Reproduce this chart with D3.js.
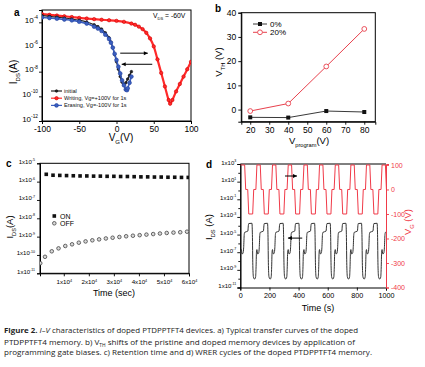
<!DOCTYPE html>
<html>
<head>
<meta charset="utf-8">
<script src="https://cdn.jsdelivr.net/npm/d3@7/dist/d3.min.js"></script>
<style>
html,body{margin:0;padding:0;background:#fff;}
svg{display:block;}
</style>
</head>
<body>
<svg id="fig" width="425" height="367"></svg>
<script>
// ================= DATA =================
// (a) transfer curves, V_G (V) and log10(I_DS / A)
const vgInitial = [-100,-90,-80,-70,-60,-50,-40,-30,-25,-20,-15,-10,-7.5,-5,-2.5,0,2.5,5,7.5,10,12.5,15,17.5,20];
const logIdsInitial = [-3.45,-3.52,-3.58,-3.65,-3.73,-3.83,-3.97,-4.2,-4.35,-4.55,-4.85,-5.25,-5.6,-6.05,-6.6,-7.2,-7.8,-8.4,-8.85,-9.05,-8.9,-8.6,-8.3,-8.0];
const vgErasing = [-100,-90,-80,-70,-60,-50,-40,-30,-25,-20,-15,-10,-7.5,-5,-2.5,0,2.5,5,7.5,10,12.5,14,15,17.5,20];
const logIdsErasing = [-3.6,-3.65,-3.7,-3.77,-3.84,-3.95,-4.1,-4.35,-4.5,-4.7,-5.0,-5.35,-5.65,-6.05,-6.55,-7.05,-7.6,-8.15,-8.7,-9.1,-9.45,-9.5,-9.35,-8.9,-8.4];
const vgWriting = [-100,-90,-80,-70,-60,-50,-40,-30,-20,-10,0,10,20,25,30,35,40,45,50,55,60,65,70,72,75,80,85,90,95,100];
const logIdsWriting = [-3.33,-3.39,-3.45,-3.51,-3.57,-3.64,-3.69,-3.74,-3.79,-3.83,-3.88,-3.96,-4.1,-4.2,-4.35,-4.55,-4.85,-5.3,-5.95,-7.0,-8.1,-9.2,-10.3,-10.6,-10.3,-9.6,-9.0,-8.4,-7.8,-7.2];
const aVgTicks = [-100,-50,0,50,100];
const aIdsTickExp = [-12,-10,-8,-6,-4];
const aLegend = ["initial","Writing, Vg=+100V for 1s","Erasing, Vg=-100V for 1s"];

// (b) threshold voltage vs programming voltage
const vProgram = [20,40,60,80];
const vth0 = [-3.2,-3.3,-0.6,-1.0];
const vth20 = [-0.6,2.5,17.8,33.3];
const bXTicks = [20,30,40,50,60,70,80];
const bYTicks = [0,10,20,30,40];
const bLegend = ["0%","20%"];

// (c) retention
const onTime = [3000,5700,8400,11100,13800,16500,19200,21900,24600,27300,30000,32700,35400,38100,40800,43500,46200,48900,51600,54300,57000,59700];
const onLogIds = [-5.6,-5.65,-5.66,-5.67,-5.68,-5.69,-5.69,-5.70,-5.70,-5.71,-5.71,-5.72,-5.72,-5.73,-5.74,-5.74,-5.75,-5.75,-5.76,-5.76,-5.77,-5.77];
const offTime = [600,2500,5200,7900,10600,13300,16000,18700,21400,24100,26800,29500,32200,34900,37600,40300,43000,45700,48400,51100,53800,56500,59200];
const offLogIds = [-10.45,-10.1,-9.8,-9.64,-9.51,-9.42,-9.33,-9.26,-9.2,-9.15,-9.1,-9.06,-9.02,-8.98,-8.95,-8.92,-8.89,-8.86,-8.83,-8.8,-8.78,-8.76,-8.73];
const cTimeTicks = [10000,20000,30000,40000,50000,60000];
const cIdsTickExp = [-11,-10,-9,-8,-7,-6,-5];

// (d) WRER cycles: one cycle shape (time offset s) and read cycle start times
const cycleStart = [7,114,221,329,437,544,652,759,866,973];
const gateShapeT = [0,23,30,44,51,78,85,100,107];
const gateShapeV = [100,100,0,0,-100,-100,0,0,100];
const drainShapeT = [0,5,12,16,20,23,45,48,51,73,76,79,83,91,98,101,104];
const drainShapeLog = [-6.7,-7.2,-7.1,-6.5,-5.0,-4.75,-4.6,-4.0,-3.75,-3.72,-5.0,-8.5,-9.8,-10.05,-9.8,-8.8,-7.0];
const dTimeTicks = [0,200,400,600,800,1000];
const dIdsTickExp = [3,1,-1,-3,-5,-7,-9,-11];
const dIdsMinorExp = [2,0,-2,-4,-6,-8,-10];
const dVgTicks = [100,0,-100,-200,-300,-400];

// ================= DRAWING =================
const FONT = "'Liberation Sans', Arial, Helvetica, sans-serif";
const svg = d3.select("#fig").attr("font-family", FONT);
svg.append("rect").attr("width",425).attr("height",367).attr("fill","#fff");
const defs = svg.append("defs");

function rich(sel, parts, fs) {
  let shift = 0;
  parts.forEach(([s, k]) => {
    const target = k === 'sub' ? fs*0.3 : (k === 'sup' ? -fs*0.42 : 0);
    const t = sel.append('tspan').text(s).attr('dy', (target - shift).toFixed(2));
    if (k === 'sub' || k === 'sup') t.attr('font-size', (fs*0.6).toFixed(2));
    if (k === 'b') t.attr('font-weight','bold');
    if (k === 'i') t.attr('font-style','italic');
    shift = target;
  });
}
function styleAxis(g, color, fs) {
  g.attr("font-family", FONT).attr("font-size", fs);
  g.select(".domain").attr("stroke", color).attr("stroke-width", 1);
  g.selectAll(".tick line").attr("stroke", color).attr("stroke-width", 0.9);
  g.selectAll(".tick text").attr("fill", color);
}
function clip(id, x0, y0, x1, y1) {
  defs.append("clipPath").attr("id", id).append("rect")
    .attr("x", x0).attr("y", y0).attr("width", x1-x0).attr("height", y1-y0);
  return `url(#${id})`;
}
function frame(x0,y0,x1,y1, color) {
  svg.append("rect").attr("x",x0).attr("y",y0).attr("width",x1-x0).attr("height",y1-y0)
    .attr("fill","none").attr("stroke",color||"#000").attr("stroke-width",1);
}
function arrow(x1, y1, x2, y2, color) {
  svg.append("line").attr("x1",x1).attr("y1",y1).attr("x2",x2).attr("y2",y2)
    .attr("stroke",color).attr("stroke-width",1);
  const dir = Math.sign(x2-x1);
  svg.append("path").attr("d",`M${x2},${y2} L${x2-dir*4},${y2-2} L${x2-dir*4},${y2+2} Z`).attr("fill",color);
}
const zip = (a,b) => a.map((v,i)=>[v,b[i]]);
const p10 = e => Math.pow(10, e);

// ---------- panel a ----------
{
  const L=42, R=191, T=10, B=121;
  const x = d3.scaleLinear().domain([-100,100]).range([L,R]);
  const y = d3.scaleLog().domain([1e-12,1e-3]).range([B,T]);
  const gx = svg.append("g").attr("transform",`translate(0,${B})`)
    .call(d3.axisBottom(x).tickValues(aVgTicks).tickSize(3).tickPadding(2).tickFormat(d=>String(d)));
  styleAxis(gx,"#000",8.5);
  const gy = svg.append("g").attr("transform",`translate(${L},0)`)
    .call(d3.axisLeft(y).tickValues(aIdsTickExp.map(p10)).tickSize(3).tickFormat(""));
  styleAxis(gy,"#000",8);
  gy.selectAll(".tick").each(function(d){
    const t = d3.select(this).append("text").attr("x",-4).attr("dy","0.55em")
      .attr("text-anchor","end").attr("fill","#000").attr("font-size",8);
    rich(t, [["10",""],[String(Math.round(Math.log10(d))),"sup"]], 8);
  });
  frame(L,T,R,B);
  const cp = clip("clipA", L, T, R, B);
  const line = d3.line().x(d=>x(d[0])).y(d=>y(p10(d[1]))).curve(d3.curveMonotoneX);
  const series = [
    {d: zip(vgWriting, logIdsWriting), c:"#ff2a2a", s:"#d40000", w:2.2, r:1.7},
    {d: zip(vgInitial, logIdsInitial), c:"#222", s:"#111", w:1.2, r:1.3},
    {d: zip(vgErasing, logIdsErasing), c:"#3b5fc0", s:"#22409c", w:1.6, r:1.9}
  ];
  const gd = svg.append("g").attr("clip-path", cp);
  series.forEach(s=>{
    gd.append("path").attr("d", line(s.d)).attr("fill","none").attr("stroke",s.c).attr("stroke-width",s.w);
    gd.selectAll(null).data(s.d).join("circle").attr("cx",d=>x(d[0])).attr("cy",d=>y(p10(d[1])))
      .attr("r",s.r).attr("fill",s.c).attr("stroke",s.s).attr("stroke-width",0.6);
  });
  // arrows
  arrow(x(5), y(p10(-6.5)), x(42), y(p10(-6.5)), "#000");
  arrow(x(48), y(p10(-7.4)), x(7), y(p10(-7.4)), "#000");
  // legend
  const legC = [["#222","#111",1.3],["#ff2a2a","#d40000",1.7],["#3b5fc0","#22409c",1.9]];
  aLegend.forEach((txt,i)=>{
    const ly = 91 + i*7.2;
    svg.append("line").attr("x1",51).attr("x2",62).attr("y1",ly).attr("y2",ly).attr("stroke",legC[i][0]).attr("stroke-width",1.2);
    svg.append("circle").attr("cx",56.5).attr("cy",ly).attr("r",legC[i][2]).attr("fill",legC[i][0]).attr("stroke",legC[i][1]).attr("stroke-width",0.6);
    svg.append("text").attr("x",64).attr("y",ly+2).attr("font-size",5.6).attr("fill","#111").text(txt);
  });
  const vt = svg.append("text").attr("x",153).attr("y",17.5).attr("font-size",6.8).attr("fill","#000");
  rich(vt, [["V",""],["DS","sub"],[" = -60V",""]], 6.8);
  svg.append("text").attr("x",14).attr("y",16).attr("font-size",10).attr("font-weight","bold").text("a");
  const xt = svg.append("text").attr("x",121).attr("y",141).attr("text-anchor","middle").attr("font-size",10);
  rich(xt, [["V",""],["G","sub"],["(V)",""]], 10);
  const yt = svg.append("text").attr("transform","translate(17,72) rotate(-90)").attr("text-anchor","middle").attr("font-size",10);
  rich(yt, [["I",""],["DS","sub"],["(A)",""]], 10);
}

// ---------- panel b ----------
{
  const L=241.3, R=375.3, T=12.7, B=121.7;
  const x = d3.scaleLinear().domain([15.3,85.8]).range([L,R]);
  const y = d3.scaleLinear().domain([-5,40]).range([B,T]);
  const gx = svg.append("g").attr("transform",`translate(0,${B})`)
    .call(d3.axisBottom(x).tickValues(bXTicks).tickSize(3).tickPadding(2).tickFormat(d=>String(d)));
  styleAxis(gx,"#000",8.5);
  const gy = svg.append("g").attr("transform",`translate(${L},0)`)
    .call(d3.axisLeft(y).tickValues(bYTicks).tickSize(3).tickPadding(2).tickFormat(d=>String(d)));
  styleAxis(gy,"#000",8.5);
  frame(L,T,R,B);
  const line = d3.line().x(d=>x(d[0])).y(d=>y(d[1]));
  const d0 = zip(vProgram, vth0), d20 = zip(vProgram, vth20);
  svg.append("path").attr("d",line(d0)).attr("fill","none").attr("stroke","#222").attr("stroke-width",0.9);
  svg.selectAll(null).data(d0).join("rect").attr("x",d=>x(d[0])-2).attr("y",d=>y(d[1])-2)
    .attr("width",4).attr("height",4).attr("fill","#111");
  svg.append("path").attr("d",line(d20)).attr("fill","none").attr("stroke","#e8414d").attr("stroke-width",1);
  svg.selectAll(null).data(d20).join("circle").attr("cx",d=>x(d[0])).attr("cy",d=>y(d[1]))
    .attr("r",2.4).attr("fill","#fff").attr("stroke","#e8414d").attr("stroke-width",0.9);
  // legend
  svg.append("line").attr("x1",253).attr("x2",267).attr("y1",24).attr("y2",24).attr("stroke","#222").attr("stroke-width",0.9);
  svg.append("rect").attr("x",258).attr("y",22).attr("width",4).attr("height",4).attr("fill","#111");
  svg.append("text").attr("x",270).attr("y",26.8).attr("font-size",8).text(bLegend[0]);
  svg.append("line").attr("x1",253).attr("x2",267).attr("y1",32.3).attr("y2",32.3).attr("stroke","#e8414d").attr("stroke-width",1);
  svg.append("circle").attr("cx",260).attr("cy",32.3).attr("r",2.4).attr("fill","#fff").attr("stroke","#e8414d").attr("stroke-width",0.9);
  svg.append("text").attr("x",270).attr("y",35.1).attr("font-size",8).text(bLegend[1]);
  svg.append("text").attr("x",215).attr("y",12).attr("font-size",10).attr("font-weight","bold").text("b");
  const xt = svg.append("text").attr("x",309).attr("y",144).attr("text-anchor","middle").attr("font-size",9.5);
  rich(xt, [["V",""],["program","sub"],["(V)",""]], 9.5);
  const yt = svg.append("text").attr("transform","translate(222,62) rotate(-90)").attr("text-anchor","middle").attr("font-size",9.5);
  rich(yt, [["V",""],["TH","sub"],[" (V)",""]], 9.5);
}

// ---------- panel c ----------
{
  const L=40, R=189, T=163.3, B=273.3;
  const x = d3.scaleLinear().domain([500,60000]).range([L,R]);
  const y = d3.scaleLog().domain([1e-11,1e-5]).range([B,T]);
  const gx = svg.append("g").attr("transform",`translate(0,${B})`)
    .call(d3.axisBottom(x).tickValues(cTimeTicks).tickSize(3).tickFormat(""));
  styleAxis(gx,"#000",6.2);
  gx.selectAll(".tick").each(function(d){
    const t = d3.select(this).append("text").attr("y",11).attr("text-anchor","middle").attr("fill","#000").attr("font-size",6.2);
    rich(t, [[`${Math.round(d/10000)}x10`,""],["4","sup"]], 6.2);
  });
  const gy = svg.append("g").attr("transform",`translate(${L},0)`)
    .call(d3.axisLeft(y).tickValues(cIdsTickExp.map(p10)).tickSize(3).tickFormat(""));
  styleAxis(gy,"#000",6);
  gy.selectAll(".tick").each(function(d){
    const t = d3.select(this).append("text").attr("x",-5).attr("dy","0.55em").attr("text-anchor","end").attr("fill","#000").attr("font-size",6);
    rich(t, [["1x10",""],[String(Math.round(Math.log10(d))),"sup"]], 6);
  });
  frame(L,T,R,B);
  const cp = clip("clipC", L, T, R, B);
  const gd = svg.append("g").attr("clip-path", cp);
  gd.selectAll(null).data(zip(onTime,onLogIds)).join("rect")
    .attr("x",d=>x(d[0])-1.8).attr("y",d=>y(p10(d[1]))-1.8).attr("width",3.6).attr("height",3.6).attr("fill","#111");
  gd.selectAll(null).data(zip(offTime,offLogIds)).join("circle")
    .attr("cx",d=>x(d[0])).attr("cy",d=>y(p10(d[1]))).attr("r",1.8)
    .attr("fill","#d8d8d8").attr("stroke","#444").attr("stroke-width",0.8);
  svg.append("rect").attr("x",52.5).attr("y",214.2).attr("width",3.6).attr("height",3.6).attr("fill","#111");
  svg.append("text").attr("x",60).attr("y",218.5).attr("font-size",7).text("ON");
  svg.append("circle").attr("cx",54.3).attr("cy",223.3).attr("r",1.8).attr("fill","#d8d8d8").attr("stroke","#444").attr("stroke-width",0.8);
  svg.append("text").attr("x",60).attr("y",225.8).attr("font-size",7).text("OFF");
  svg.append("text").attr("x",6).attr("y",167).attr("font-size",10).attr("font-weight","bold").text("c");
  svg.append("text").attr("x",114).attr("y",296).attr("text-anchor","middle").attr("font-size",9).text("Time (sec)");
  const yt = svg.append("text").attr("transform","translate(13,227) rotate(-90)").attr("text-anchor","middle").attr("font-size",9.5);
  rich(yt, [["I",""],["DS","sub"],["(A)",""]], 9.5);
}

// ---------- panel d ----------
{
  const L=240.3, R=386, T=164, B=287.5;
  const x = d3.scaleLinear().domain([0,1000]).range([L,R]);
  const yI = d3.scaleLog().domain([1e-11,1e3]).range([B,T]);
  const yV = d3.scaleLinear().domain([-400,104]).range([B,T]);
  const gx = svg.append("g").attr("transform",`translate(0,${B})`)
    .call(d3.axisBottom(x).tickValues(dTimeTicks).tickSize(3).tickPadding(2).tickFormat(d=>String(d)));
  styleAxis(gx,"#000",7.2);
  const gy = svg.append("g").attr("transform",`translate(${L},0)`)
    .call(d3.axisLeft(yI).tickValues(dIdsTickExp.map(p10)).tickSize(3).tickFormat(""));
  styleAxis(gy,"#000",6);
  gy.selectAll(".tick").each(function(d){
    const t = d3.select(this).append("text").attr("x",-4).attr("dy","0.55em").attr("text-anchor","end").attr("fill","#000").attr("font-size",6);
    rich(t, [["1x10",""],[String(Math.round(Math.log10(d))),"sup"]], 6);
  });
  const gm = svg.append("g").attr("transform",`translate(${L},0)`)
    .call(d3.axisLeft(yI).tickValues(dIdsMinorExp.map(p10)).tickSize(2).tickFormat(""));
  styleAxis(gm,"#000",6);
  const gr = svg.append("g").attr("transform",`translate(${R},0)`)
    .call(d3.axisRight(yV).tickValues(dVgTicks).tickSize(3).tickPadding(2).tickFormat(d=>String(d)));
  styleAxis(gr,"#f03a48",7);
  svg.append("line").attr("x1",L).attr("x2",R).attr("y1",T).attr("y2",T).attr("stroke","#000");
  const cp = clip("clipD", L, T, R, B);
  const gd = svg.append("g").attr("clip-path", cp);
  const gatePts = [[0, gateShapeV[0]]];
  cycleStart.forEach(s => gateShapeT.forEach((t,i)=>{ if (i < gateShapeT.length-1) gatePts.push([s+t, gateShapeV[i]]); }));
  const drainPts = [[0, -7.2]];
  cycleStart.forEach(s => drainShapeT.forEach((t,i)=> drainPts.push([s+t, drainShapeLog[i]])));
  gd.append("path").attr("d", d3.line().x(d=>x(d[0])).y(d=>yV(d[1]))(gatePts))
    .attr("fill","none").attr("stroke","#f03a48").attr("stroke-width",1);
  gd.append("path").attr("d", d3.line().x(d=>x(d[0])).y(d=>yI(p10(d[1]))).curve(d3.curveMonotoneX)(drainPts))
    .attr("fill","none").attr("stroke","#333").attr("stroke-width",1);
  arrow(x(307), yV(55), x(389), yV(55), "#000");
  arrow(x(425), yI(p10(-5.4)), x(327), yI(p10(-5.4)), "#000");
  svg.append("text").attr("x",206).attr("y",168).attr("font-size",10).attr("font-weight","bold").text("d");
  svg.append("text").attr("x",318).attr("y",311).attr("text-anchor","middle").attr("font-size",9).text("Time (s)");
  const yt = svg.append("text").attr("transform","translate(212,227) rotate(-90)").attr("text-anchor","middle").attr("font-size",9.5);
  rich(yt, [["I",""],["DS","sub"],[" (A)",""]], 9.5);
  const yr = svg.append("text").attr("transform","translate(411,222) rotate(-90)").attr("text-anchor","middle").attr("font-size",9.5).attr("fill","#f03a48");
  rich(yr, [["V",""],["G","sub"],[" (V)",""]], 9.5);
}

// ---------- caption ----------
{
  const CF = "'Open Sans', 'Noto Sans', sans-serif";
  const lines = [
    {y:333, w:354, parts:[["Figure 2.","b"],["  ",""],["I–V","i"],[" characteristics of doped PTDPPTFT4 devices. a) Typical transfer curves of the doped",""]]},
    {y:344.5, w:351, parts:[["PTDPPTFT4 memory. b) V",""],["TH","sub"],[" shifts of the pristine and doped memory devices by application of",""]]},
    {y:355, w:368, parts:[["programming gate biases. c) Retention time and d) WRER cycles of the doped PTDPPTFT4 memory.",""]]}
  ];
  lines.forEach(l=>{
    const t = svg.append("text").attr("x",4).attr("y",l.y).attr("font-family",CF).attr("font-size",7.6)
      .attr("fill","#222").attr("textLength",l.w).attr("lengthAdjust","spacingAndGlyphs");
    rich(t, l.parts, 7.6);
  });
}
</script>
</body>
</html>
